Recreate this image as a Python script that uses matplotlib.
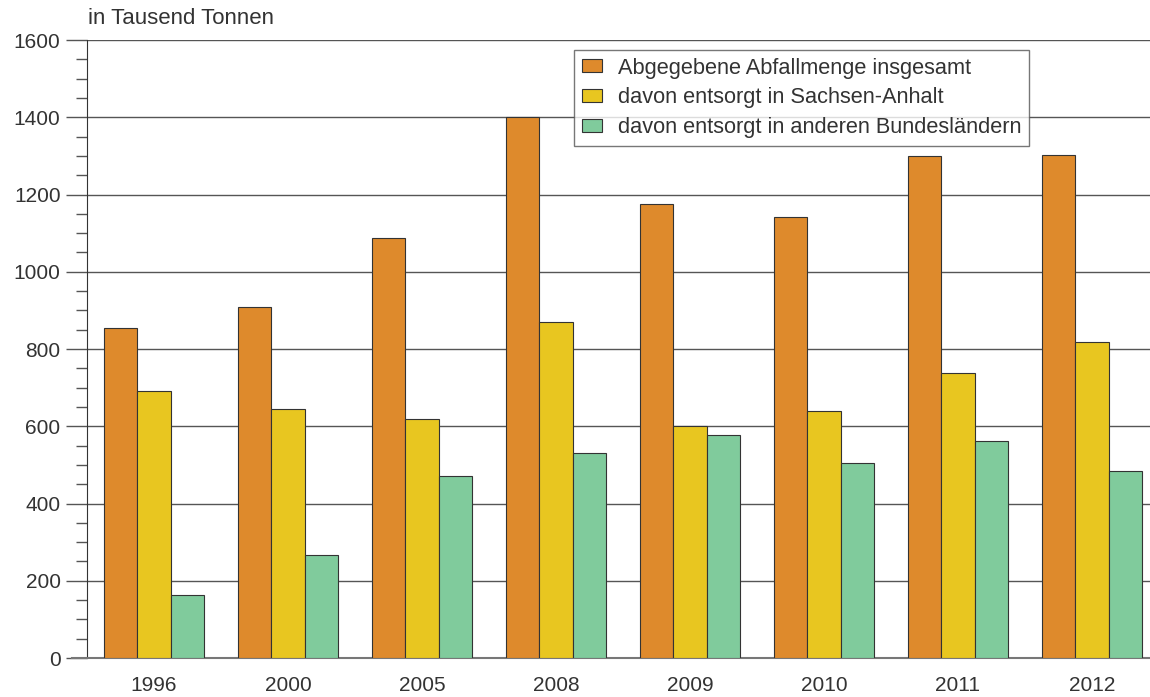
import matplotlib
matplotlib.use("Agg")
import matplotlib.pyplot as plt
import numpy as np
from matplotlib.ticker import MultipleLocator

plt.rcParams['font.family'] = ['Liberation Sans', 'DejaVu Sans']

years = ["1996", "2000", "2005", "2008", "2009", "2010", "2011", "2012"]
total = [855, 909, 1087, 1401, 1175, 1142, 1300, 1302]
sachsen_anhalt = [691, 645, 619, 870, 601, 639, 738, 818]
andere = [163, 266, 471, 531, 577, 505, 562, 484]

labels = ["Abgegebene Abfallmenge insgesamt",
          "davon entsorgt in Sachsen-Anhalt",
          "davon entsorgt in anderen Bundesländern"]
colors = ["#DE8A2C", "#E8C620", "#80CB9C"]

fig = plt.figure(figsize=(11.5, 6.97), dpi=100)
ax = fig.add_axes([87/1150, 39/697, 1 - 87/1150, (658-40)/697])

x = np.arange(len(years))
w = 0.25
for i, (vals, c, lab) in enumerate(zip([total, sachsen_anhalt, andere], colors, labels)):
    ax.bar(x + (i - 1) * w, vals, width=w, color=c, edgecolor="#333333",
           linewidth=0.8, label=lab, zorder=3)

ax.set_xlim(-0.5, (1150 - 154) / 134)
ax.set_ylim(0, 1600)
ax.yaxis.set_major_locator(MultipleLocator(200))
ax.yaxis.set_minor_locator(MultipleLocator(50))
ax.set_xticks(x)
ax.set_xticklabels(years)
ax.tick_params(axis='x', length=0, pad=13, labelsize=15, colors="#333333")
ax.tick_params(axis='y', which='major', length=15, width=1, color="#555555",
               labelsize=15, labelcolor="#333333", pad=4)
ax.tick_params(axis='y', which='minor', length=8, width=1, color="#555555")
ax.grid(axis='y', which='major', color="#555555", linewidth=1, zorder=0)
for s in ['top', 'right']:
    ax.spines[s].set_visible(False)
ax.spines['left'].set_color("#333333")
ax.spines['bottom'].set_color("#777777")
ax.spines['bottom'].set_linewidth(1.5)
ax.spines['bottom'].set_bounds(-0.5 - 15/134, (1150 - 154) / 134)
ax.spines['bottom'].set_clip_on(False)

fig.text(88/1150, 1 - 19/697, "in Tausend Tonnen", fontsize=16, color="#333333",
         va='center', ha='left')

leg = ax.legend(loc='upper left', bbox_to_anchor=((574-87)/1063, (658-50)/618),
                frameon=True, fancybox=False, fontsize=15.7, handlelength=0.95,
                handleheight=0.55, handletextpad=0.7, borderpad=0.35,
                labelspacing=0.4, borderaxespad=0)
leg.get_frame().set_edgecolor("#555555")
leg.get_frame().set_linewidth(1)
for t in leg.get_texts():
    t.set_color("#333333")

fig.savefig("out.png", dpi=100)
